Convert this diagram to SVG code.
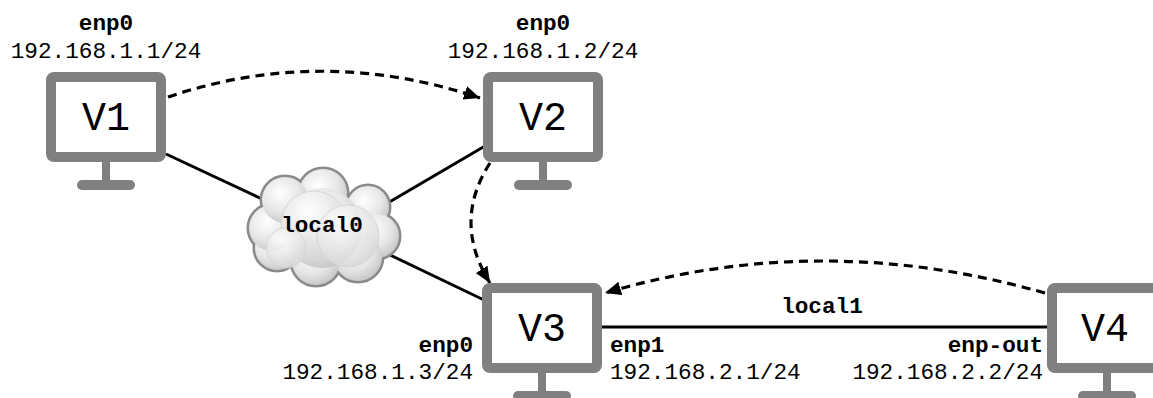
<svg xmlns="http://www.w3.org/2000/svg" xmlns:xlink="http://www.w3.org/1999/xlink" width="1153" height="398" viewBox="0 0 1153 398">
<style>
  text { font-family: "Liberation Mono", "Courier New", monospace; fill: #000; }
  .lbl { font-size: 22.7px; }
  .b { font-weight: bold; }
  .name { font-size: 40px; text-anchor: middle; }
  .mid { text-anchor: middle; }
  .end { text-anchor: end; }
  .link { stroke: #000; stroke-width: 3; fill: none; }
  .flow { stroke: #000; stroke-width: 3.2; fill: none; stroke-dasharray: 9 6; }
  .frame { fill: #fff; stroke: #808080; stroke-width: 10; }
  .gray { fill: #808080; }
</style>
<defs>
  <marker id="arr" markerUnits="userSpaceOnUse" markerWidth="18" markerHeight="16" refX="16" refY="7" orient="auto">
    <path d="M0,0 L16,7 L0,14 Z" fill="#000"/>
  </marker>
  <g id="monitor">
    <rect class="frame" x="-55" y="5" width="110" height="80" rx="3"/>
    <rect class="gray" x="-4" y="88" width="8" height="22"/>
    <rect class="gray" x="-29" y="108" width="58" height="10" rx="5"/>
  </g>
  <radialGradient id="cg" cx="0.4" cy="0.35" r="0.7">
    <stop offset="0" stop-color="#ffffff"/>
    <stop offset="0.6" stop-color="#e6e6e6"/>
    <stop offset="1" stop-color="#c4c4c4"/>
  </radialGradient>
  <radialGradient id="bub" cx="0.4" cy="0.3" r="0.75">
    <stop offset="0" stop-color="#ffffff"/>
    <stop offset="1" stop-color="#d6d6d6"/>
  </radialGradient>
</defs>

<g id="connectors">
  <line class="link" x1="166" y1="154" x2="262" y2="199"/>
  <line class="link" x1="485" y1="146" x2="386" y2="204"/>
  <line class="link" x1="390" y1="255" x2="484" y2="300"/>
  <line class="link" x1="601" y1="327" x2="1048" y2="327"/>
  <path class="flow" d="M168,97 Q322,45 480,98" marker-end="url(#arr)"/>
  <path class="flow" d="M490,163 Q452,222 490,283" marker-end="url(#arr)"/>
  <path class="flow" d="M1045,293 Q821,229 605,293" marker-end="url(#arr)"/>
</g>

<g id="local0">
  <g stroke="#8a8a88" stroke-width="5" fill="#8a8a88">
    <circle cx="323" cy="193" r="24"/>
    <circle cx="368" cy="207" r="21"/>
    <circle cx="377" cy="236" r="22"/>
    <circle cx="358" cy="257" r="24"/>
    <circle cx="316" cy="261" r="24"/>
    <circle cx="277" cy="248" r="22"/>
    <circle cx="272" cy="228" r="23"/>
    <circle cx="285" cy="200" r="23"/>
    <circle cx="322" cy="228" r="40"/>
  </g>
  <g fill="url(#cg)">
    <circle cx="323" cy="193" r="24"/>
    <circle cx="368" cy="207" r="21"/>
    <circle cx="377" cy="236" r="22"/>
    <circle cx="358" cy="257" r="24"/>
    <circle cx="316" cy="261" r="24"/>
    <circle cx="277" cy="248" r="22"/>
    <circle cx="272" cy="228" r="23"/>
    <circle cx="285" cy="200" r="23"/>
    <circle cx="322" cy="228" r="40"/>
  </g>
  <g fill="url(#bub)" stroke="#d4d4d4" stroke-width="1" opacity="0.85">
    <circle cx="314" cy="224" r="33"/>
    <circle cx="348" cy="236" r="31"/>
    <circle cx="286" cy="248" r="20"/>
  </g>
  <text class="lbl b mid" x="322" y="232">local0</text>
</g>

<g id="V1">
  <use xlink:href="#monitor" transform="translate(106,72)"/>
  <text class="name" x="106" y="130">V1</text>
  <text class="lbl b mid" x="106" y="30">enp0</text>
  <text class="lbl mid" x="106" y="58">192.168.1.1/24</text>
</g>

<g id="V2">
  <use xlink:href="#monitor" transform="translate(543,72)"/>
  <text class="name" x="543" y="130">V2</text>
  <text class="lbl b mid" x="543" y="30">enp0</text>
  <text class="lbl mid" x="543" y="58">192.168.1.2/24</text>
</g>

<g id="V3">
  <use xlink:href="#monitor" transform="translate(542,283)"/>
  <text class="name" x="542" y="341">V3</text>
  <text class="lbl b end" x="473" y="352">enp0</text>
  <text class="lbl end" x="473" y="379">192.168.1.3/24</text>
  <text class="lbl b" x="610" y="352">enp1</text>
  <text class="lbl" x="610" y="379">192.168.2.1/24</text>
</g>

<g id="V4">
  <use xlink:href="#monitor" transform="translate(1107,283)"/>
  <text class="name" x="1105" y="341">V4</text>
  <text class="lbl b end" x="1043" y="352">enp-out</text>
  <text class="lbl end" x="1043" y="379">192.168.2.2/24</text>
</g>

<g id="local1">
  <text class="lbl b mid" x="822" y="313">local1</text>
</g>
</svg>
